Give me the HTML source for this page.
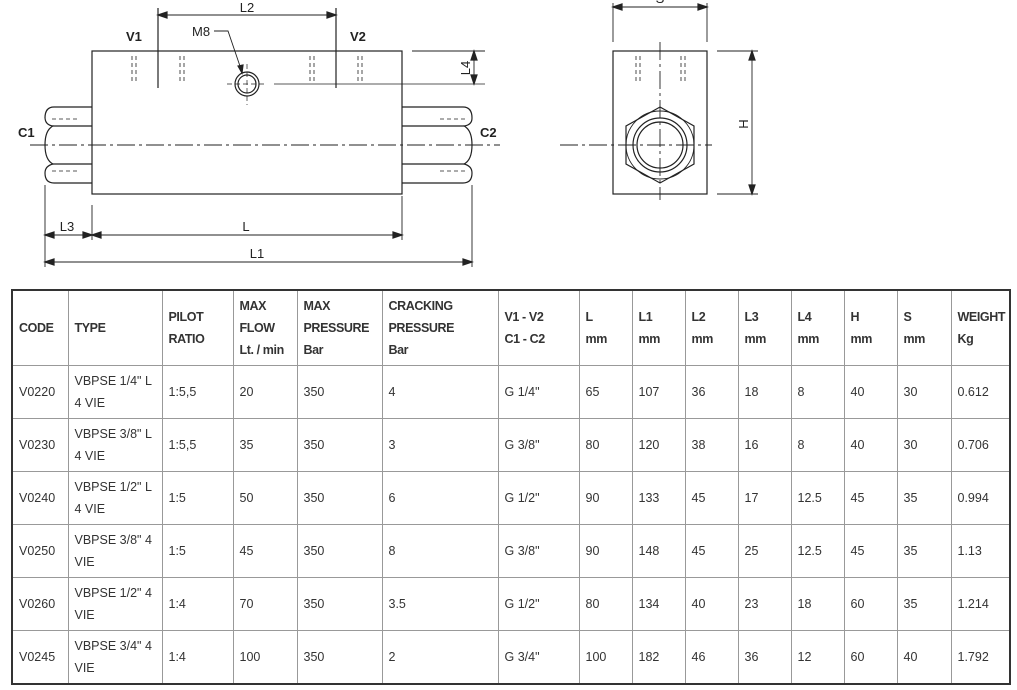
<!DOCTYPE html>
<html><head><meta charset="utf-8"><style>
body{margin:0;width:1017px;height:690px;background:#fff;overflow:hidden;position:relative;font-family:"Liberation Sans Narrow","Liberation Sans",sans-serif}
svg{position:absolute;left:0;top:0}
table{position:absolute;left:11px;top:289px;border-collapse:collapse;border:2px solid #333;table-layout:fixed;width:998px}
td{border:1px solid #999;color:#333;font-size:12.5px;line-height:22px;padding:0 0 0 6px;vertical-align:middle;height:52px;overflow:hidden;white-space:nowrap}
tr.h td{font-weight:bold;height:74px;letter-spacing:-0.4px}
</style></head><body>
<svg width="1017" height="290" viewBox="0 0 1017 290" font-family="Liberation Sans,sans-serif" fill="none" stroke="#222" stroke-width="1.2">
<rect x="92" y="51" width="310" height="143"/>
<path d="M92 107 H54 Q45 107 45 118 V117 Q45 125 53 126 Q45 130 45 145 Q45 160 53 164 Q45 166 45 173 Q45 183 54 183 H92"/>
<line x1="53" y1="126" x2="92" y2="126"/><line x1="53" y1="164" x2="92" y2="164"/>
<path d="M402 107 H463 Q472 107 472 118 Q472 125 464 126 Q472 130 472 145 Q472 160 464 164 Q472 166 472 173 Q472 183 463 183 H402"/>
<line x1="402" y1="126" x2="464" y2="126"/><line x1="402" y1="164" x2="464" y2="164"/>
<g stroke-dasharray="4,3" stroke-width="0.8">
<line x1="52" y1="119" x2="78" y2="119"/><line x1="52" y1="171" x2="78" y2="171"/>
<line x1="440" y1="119" x2="466" y2="119"/><line x1="440" y1="171" x2="466" y2="171"/>
<line x1="132" y1="56" x2="132" y2="84"/><line x1="136" y1="56" x2="136" y2="84"/>
<line x1="180" y1="56" x2="180" y2="84"/><line x1="184" y1="56" x2="184" y2="84"/>
<line x1="310" y1="56" x2="310" y2="84"/><line x1="314" y1="56" x2="314" y2="84"/>
<line x1="358" y1="56" x2="358" y2="84"/><line x1="362" y1="56" x2="362" y2="84"/>
</g>
<line x1="30" y1="145" x2="500" y2="145" stroke-dasharray="18,4,3,4" stroke-width="0.9"/>
<circle cx="247" cy="84" r="12"/><circle cx="247" cy="84" r="9"/>
<line x1="227" y1="84" x2="267" y2="84" stroke-dasharray="5,3" stroke-width="0.7"/>
<line x1="247" y1="64" x2="247" y2="105" stroke-dasharray="5,3" stroke-width="0.7"/>
<line x1="274" y1="84" x2="485" y2="84" stroke-width="0.8"/>
<path d="M214 31 H228 L242 72" stroke-width="0.9"/><path d="M238 66 L242 73 L243 65 Z" fill="#222"/>
<line x1="158" y1="8" x2="158" y2="88"/><line x1="336" y1="8" x2="336" y2="88"/>
<line x1="158" y1="15" x2="336" y2="15" stroke-width="0.9"/>
<path d="M158 15 l9 -3 v6z M336 15 l-9 -3 v6z" fill="#222"/>
<line x1="412" y1="51" x2="485" y2="51" stroke-width="0.9"/>
<line x1="474" y1="51" x2="474" y2="84" stroke-width="0.9"/>
<path d="M474 51 l-3 9 h6z M474 84 l-3 -9 h6z" fill="#222"/>
<line x1="45" y1="185" x2="45" y2="267" stroke-width="0.9"/><line x1="92" y1="205" x2="92" y2="240" stroke-width="0.9"/>
<line x1="402" y1="196" x2="402" y2="240" stroke-width="0.9"/><line x1="472" y1="185" x2="472" y2="267" stroke-width="0.9"/>
<line x1="45" y1="235" x2="402" y2="235" stroke-width="0.9"/>
<line x1="45" y1="262" x2="472" y2="262" stroke-width="0.9"/>
<path d="M45 235 l9 -3 v6z M92 235 l-9 -3 v6z M92 235 l9 -3 v6z M402 235 l-9 -3 v6z M45 262 l9 -3 v6z M472 262 l-9 -3 v6z" fill="#222"/>
<rect x="613" y="51" width="94" height="143"/>
<line x1="613" y1="3" x2="613" y2="42" stroke-width="0.9"/><line x1="707" y1="3" x2="707" y2="42" stroke-width="0.9"/>
<line x1="613" y1="7" x2="707" y2="7" stroke-width="0.9"/>
<path d="M613 7 l9 -3 v6z M707 7 l-9 -3 v6z" fill="#222"/>
<g stroke-dasharray="4,3" stroke-width="0.8">
<line x1="636" y1="56" x2="636" y2="84"/><line x1="640" y1="56" x2="640" y2="84"/>
<line x1="681" y1="56" x2="681" y2="84"/><line x1="685" y1="56" x2="685" y2="84"/>
</g>
<polygon points="660,107 694,126 694,164 660,183 626,164 626,126"/>
<circle cx="660" cy="145" r="34" stroke-width="0.9"/>
<circle cx="660" cy="145" r="27"/><circle cx="660" cy="145" r="23"/>
<line x1="560" y1="145" x2="712" y2="145" stroke-dasharray="18,4,3,4" stroke-width="0.9"/>
<line x1="660" y1="42" x2="660" y2="200" stroke-dasharray="18,4,3,4" stroke-width="0.9"/>
<line x1="717" y1="51" x2="758" y2="51" stroke-width="0.9"/><line x1="717" y1="194" x2="758" y2="194" stroke-width="0.9"/>
<line x1="752" y1="51" x2="752" y2="194" stroke-width="0.9"/>
<path d="M752 51 l-3 9 h6z M752 194 l-3 -9 h6z" fill="#222"/>
<g fill="#222" stroke="none" font-size="13">
<text x="247" y="12" text-anchor="middle">L2</text>
<text x="192" y="36">M8</text>
<text x="126" y="41" font-weight="bold">V1</text>
<text x="350" y="41" font-weight="bold">V2</text>
<text x="18" y="137" font-weight="bold">C1</text>
<text x="480" y="137" font-weight="bold">C2</text>
<text x="67" y="231" text-anchor="middle">L3</text>
<text x="246" y="231" text-anchor="middle">L</text>
<text x="257" y="258" text-anchor="middle">L1</text>
<text transform="translate(470 68) rotate(-90)" text-anchor="middle">L4</text>
<text transform="translate(748 124) rotate(-90)" text-anchor="middle">H</text>
<text x="660" y="3" text-anchor="middle">S</text>
</g>
</svg>
<table>
<colgroup><col style="width:56px"><col style="width:94px"><col style="width:71px"><col style="width:64px"><col style="width:85px"><col style="width:116px"><col style="width:81px"><col style="width:53px"><col style="width:53px"><col style="width:53px"><col style="width:53px"><col style="width:53px"><col style="width:53px"><col style="width:54px"><col style="width:59px"></colgroup>
<tr class="h"><td>CODE</td><td>TYPE</td><td>PILOT<br>RATIO</td><td>MAX<br>FLOW<br>Lt. / min</td><td>MAX<br>PRESSURE<br>Bar</td><td>CRACKING<br>PRESSURE<br>Bar</td><td>V1 - V2<br>C1 - C2</td><td>L<br>mm</td><td>L1<br>mm</td><td>L2<br>mm</td><td>L3<br>mm</td><td>L4<br>mm</td><td>H<br>mm</td><td>S<br>mm</td><td>WEIGHT<br>Kg</td></tr>
<tr><td>V0220</td><td>VBPSE 1/4" L<br>4 VIE</td><td>1:5,5</td><td>20</td><td>350</td><td>4</td><td>G 1/4"</td><td>65</td><td>107</td><td>36</td><td>18</td><td>8</td><td>40</td><td>30</td><td>0.612</td></tr>
<tr><td>V0230</td><td>VBPSE 3/8" L<br>4 VIE</td><td>1:5,5</td><td>35</td><td>350</td><td>3</td><td>G 3/8"</td><td>80</td><td>120</td><td>38</td><td>16</td><td>8</td><td>40</td><td>30</td><td>0.706</td></tr>
<tr><td>V0240</td><td>VBPSE 1/2" L<br>4 VIE</td><td>1:5</td><td>50</td><td>350</td><td>6</td><td>G 1/2"</td><td>90</td><td>133</td><td>45</td><td>17</td><td>12.5</td><td>45</td><td>35</td><td>0.994</td></tr>
<tr><td>V0250</td><td>VBPSE 3/8" 4<br>VIE</td><td>1:5</td><td>45</td><td>350</td><td>8</td><td>G 3/8"</td><td>90</td><td>148</td><td>45</td><td>25</td><td>12.5</td><td>45</td><td>35</td><td>1.13</td></tr>
<tr><td>V0260</td><td>VBPSE 1/2" 4<br>VIE</td><td>1:4</td><td>70</td><td>350</td><td>3.5</td><td>G 1/2"</td><td>80</td><td>134</td><td>40</td><td>23</td><td>18</td><td>60</td><td>35</td><td>1.214</td></tr>
<tr><td>V0245</td><td>VBPSE 3/4" 4<br>VIE</td><td>1:4</td><td>100</td><td>350</td><td>2</td><td>G 3/4"</td><td>100</td><td>182</td><td>46</td><td>36</td><td>12</td><td>60</td><td>40</td><td>1.792</td></tr>
</table>
</body></html>
